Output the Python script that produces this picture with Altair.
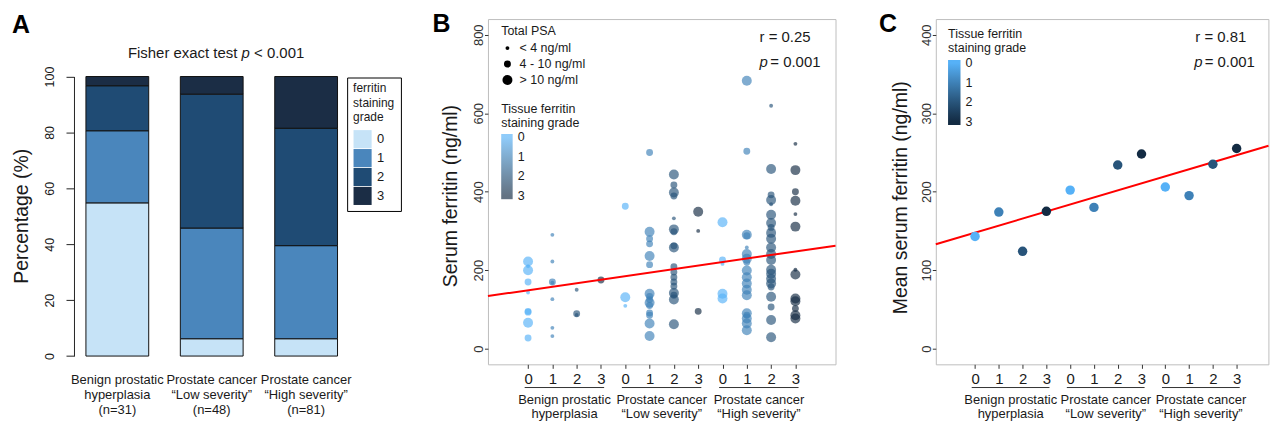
import altair as alt
import pandas as pd

FONT = "Liberation Sans"
INK = "#1a1a1a"

# ---------------- Panel A data ----------------
groups = ["BPH", "Low", "High"]
group_text_A = ["Benign prostatic\nhyperplasia\n(n=31)",
                "Prostate cancer\n“Low severity”\n(n=48)",
                "Prostate cancer\n“High severity”\n(n=81)"]
grades = ["0", "1", "2", "3"]
pct_bph = [54.8, 25.8, 16.1, 3.3]
pct_low = [6.2, 39.6, 47.9, 6.3]
pct_high = [6.2, 33.3, 42.0, 18.5]
fill_A = ["#C6E3F7", "#4A86BC", "#1F4B74", "#1B2D45"]

# ---------------- Panel B data (serum ferritin, ng/ml) ----------------
psa_labels = ["< 4 ng/ml", "4 - 10 ng/ml", "> 10 ng/ml"]
bph_g0 = [222, 210, 200, 170, 143, 95, 93, 66, 27]
bph_g0_psa = [2, 0, 2, 1, 0, 1, 1, 2, 1]
bph_g1 = [290, 222, 170, 168, 126, 53, 32]
bph_g1_psa = [0, 0, 1, 0, 0, 0, 0]
bph_g2 = [150, 89, 86]
bph_g2_psa = [0, 1, 0]
bph_g3 = [175]
bph_g3_psa = [1]
low_g0 = [363, 131, 109]
low_g0_psa = [1, 2, 0]
low_g1 = [500, 298, 280, 267, 236, 214, 140, 133, 125, 117, 110, 91, 85, 64, 32]
low_g1_psa = [1, 2, 1, 1, 2, 1, 2, 1, 1, 2, 1, 1, 1, 2, 2]
low_g2 = [444, 417, 398, 389, 332, 304, 298, 262, 258, 209, 195, 182, 170, 159, 142, 136, 125, 62]
low_g2_psa = [2, 1, 2, 1, 0, 2, 1, 1, 2, 1, 1, 1, 1, 1, 2, 1, 2, 2]
low_g3 = [349, 300, 95]
low_g3_psa = [2, 0, 1]
high_g0 = [322, 226, 216, 140, 128]
high_g0_psa = [2, 1, 0, 2, 2]
high_g1 = [683, 503, 290, 288, 258, 241, 229, 220, 199, 182, 166, 150, 136, 90, 85, 77, 64, 47]
high_g1_psa = [2, 1, 2, 1, 0, 2, 2, 1, 2, 2, 2, 2, 2, 2, 1, 2, 2, 2]
high_g2 = [619, 458, 392, 379, 368, 341, 320, 309, 295, 280, 258, 241, 226, 201, 191, 178,
           166, 157, 132, 106, 73, 29]
high_g2_psa = [0, 2, 1, 2, 0, 2, 2, 1, 2, 2, 2, 2, 2, 2, 2, 2, 2, 1, 2, 1, 2, 2]
high_g3 = [522, 455, 400, 377, 343, 311, 201, 189, 128, 121, 102, 85, 77]
high_g3_psa = [0, 2, 1, 2, 0, 2, 0, 2, 2, 2, 1, 2, 2]
fit_B_x = [-0.65, 13.65]
fit_B_y = [134, 262.5]

# ---------------- Panel C data (mean serum ferritin) ----------------
mean_serum = [143, 174, 124, 175, 202, 180, 234, 248, 206, 195, 235, 255]
fit_C_x = [-0.65, 13.34]
fit_C_y = [133, 258.5]

group_text_BC = ["Benign prostatic\nhyperplasia",
                 "Prostate cancer\n“Low severity”",
                 "Prostate cancer\n“High severity”"]

H = 346.7
WA, WB, WC = 314.3, 349, 334
X_MAX_B, X_MAX_C = 13.65, 13.336


def one(t):
    return pd.DataFrame({"t": [t]})


def label(t, x, y, size=13, align="left", baseline="alphabetic", weight="normal",
          style="normal", angle=0, color=INK):
    return alt.Chart(one(t)).mark_text(
        font=FONT, fontSize=size, align=align, baseline=baseline, fontWeight=weight,
        fontStyle=style, angle=angle, color=color
    ).encode(x=alt.value(x), y=alt.value(y), text="t:N")


# ================= Panel A =================
rows = []
for g, pcts in zip(groups, [pct_bph, pct_low, pct_high]):
    for gr, p in zip(grades, pcts):
        rows.append({"group": g, "grade": gr, "pct": p})
dfA = pd.DataFrame(rows)

xA_scale = alt.Scale(domain=groups, paddingInner=0.335, paddingOuter=0.3252, align=0.1946)

barsA = alt.Chart(dfA).mark_bar(stroke="#111", strokeWidth=1).encode(
    x=alt.X("group:N", sort=groups, scale=xA_scale, axis=None),
    y=alt.Y("pct:Q", stack="zero",
            scale=alt.Scale(domain=[0, 100], range=[338.4, 57.7], nice=False),
            axis=alt.Axis(values=[0, 20, 40, 60, 80, 100], labelAngle=270, labelAlign="center",
                          labelBaseline="alphabetic", tickSize=8, labelPadding=13,
                          domainColor="#222", tickColor="#222", labelColor=INK,
                          labelFontSize=12.5, labelFont=FONT, grid=False, title=None)),
    color=alt.Color("grade:N", scale=alt.Scale(domain=grades, range=fill_A),
                    legend=alt.Legend(title=["ferritin", "staining", "grade"], orient="none",
                                      legendX=274.3, legendY=58.7, strokeColor="#000",
                                      padding=6, symbolType="square", symbolSize=330,
                                      symbolStrokeWidth=0, rowPadding=0, labelFontSize=13,
                                      titleFontSize=12, titleFontWeight="normal",
                                      titleLineHeight=14.2, labelOffset=5, titlePadding=6,
                                      labelFont=FONT, titleFont=FONT, titleColor=INK,
                                      labelColor=INK, fillColor="white")),
    order=alt.Order("grade:N", sort="ascending"),
)

dfAg = pd.DataFrame({"group": groups, "lab": group_text_A})
groupA = alt.Chart(dfAg).mark_text(font=FONT, fontSize=13, lineBreak="\n", lineHeight=14.8,
                                   baseline="alphabetic", color=INK).encode(
    x=alt.X("group:N", sort=groups, scale=xA_scale, axis=None),
    y=alt.value(366.7), text="lab:N")

panelA = alt.layer(
    barsA, groupA,
    label("A", -62.3, 14.4, size=25, weight="bold", color="#000"),
    label("Fisher exact test", 164.1, 38.7, size=15, align="right"),
    label("p", 168.3, 38.7, size=15, style="italic"),
    label("< 0.001", 180.8, 38.7, size=15),
    label("Percentage (%)", -52.2, 198, size=19.5, align="center", baseline="middle", angle=270),
).properties(width=WA, height=H, view=alt.ViewBackground(stroke=None))


# ================= Panels B & C helpers =================
def x_enc(field, xmax):
    return alt.X(field, scale=alt.Scale(domain=[-0.65, xmax], nice=False, zero=False),
                 axis=alt.Axis(values=list(range(1, 13)), labelExpr="'' + ((datum.value - 1) % 4)",
                               grid=False, domain=False, tickSize=4, tickColor="#333",
                               labelFontSize=15, labelFont=FONT, labelColor=INK,
                               labelBaseline="top", labelPadding=3.7, title=None))


def y_enc(field, top, step):
    return alt.Y(field, scale=alt.Scale(domain=[-top * 0.05, top * 1.05], nice=False, zero=False),
                 axis=alt.Axis(values=list(range(0, top + 1, step)), labelAngle=270,
                               labelAlign="center", labelBaseline="alphabetic",
                               tickSize=3.5, tickColor="#333", labelPadding=2.2,
                               labelFontSize=13, labelFont=FONT, labelColor="#333",
                               grid=False, domain=False, title=None))


# colour field is the negated grade so that grade 0 sits at the top of the vertical gradient;
# the colour bar runs a little past grades 0 and 3, as a ggplot colour bar does
color_scale = alt.Scale(domain=[-3.17, -3, 0, 0.17],
                        range=["#132B43", "#132B43", "#56B1F7", "#56B1F7"], interpolate="lab")


def grade_legend(lx, ly, thick):
    return alt.Legend(title=["Tissue ferritin", "staining grade"], orient="none",
                      legendX=lx, legendY=ly, padding=0, gradientLength=65.5,
                      gradientThickness=thick, gradientStrokeWidth=0, values=[-3, -2, -1, 0],
                      labelExpr="'' + (-datum.value)", labelOffset=5,
                      labelFontSize=12.5, labelOverlap=False,
                      titleFontSize=12.5, titleFontWeight="normal", titleLineHeight=14,
                      titlePadding=5, labelFont=FONT, titleFont=FONT, titleColor=INK,
                      labelColor=INK)


def bottom_groups(xmax, ref_y_line, ref_y_text):
    starts = [1, 5, 9]
    dfu = pd.DataFrame({"x0": [s - 0.14 for s in starts], "x1": [s + 3.13 for s in starts]})
    rule = alt.Chart(dfu).mark_rule(color="#333", strokeWidth=1).encode(
        x=x_enc("x0:Q", xmax), x2="x1:Q", y=alt.value(ref_y_line))
    dfl = pd.DataFrame({"cx": [s + 1.5 for s in starts], "lab": group_text_BC})
    txt = alt.Chart(dfl).mark_text(font=FONT, fontSize=13, lineBreak="\n", lineHeight=14.3,
                                   baseline="alphabetic", color=INK).encode(
        x=x_enc("cx:Q", xmax), y=alt.value(ref_y_text), text="lab:N")
    return rule, txt


# ================= Panel B =================
b_lists = [
    (bph_g0, bph_g0_psa), (bph_g1, bph_g1_psa), (bph_g2, bph_g2_psa), (bph_g3, bph_g3_psa),
    (low_g0, low_g0_psa), (low_g1, low_g1_psa), (low_g2, low_g2_psa), (low_g3, low_g3_psa),
    (high_g0, high_g0_psa), (high_g1, high_g1_psa), (high_g2, high_g2_psa), (high_g3, high_g3_psa),
]
rows = []
for i, (vals, psas) in enumerate(b_lists):
    for v, p in zip(vals, psas):
        rows.append({"pos": i + 1, "grade": i % 4, "serum": v, "psa": psa_labels[p]})
dfB = pd.DataFrame(rows)

pointsB = alt.Chart(dfB).transform_calculate(neg="-datum.grade").mark_circle(opacity=0.66).encode(
    x=x_enc("pos:Q", X_MAX_B),
    y=y_enc("serum:Q", 800, 200),
    color=alt.Color("neg:Q", scale=color_scale, legend=grade_legend(13.3, 83.9, 11.5)),
    size=alt.Size("psa:N", scale=alt.Scale(type="ordinal", domain=psa_labels, range=[15, 48, 100]),
                  legend=alt.Legend(title="Total PSA", orient="none", legendX=13.3, legendY=6.2,
                                    padding=0, symbolType="circle", symbolFillColor="#000",
                                    symbolStrokeWidth=0, symbolOpacity=1, rowPadding=3.0,
                                    labelOffset=5.9, titlePadding=4.2, labelFontSize=12.5,
                                    titleFontSize=12.5, titleFontWeight="normal",
                                    labelFont=FONT, titleFont=FONT, titleColor=INK,
                                    labelColor=INK)),
)
lineB = alt.Chart(pd.DataFrame({"lx": fit_B_x, "ly": fit_B_y})).mark_line(
    color="#FF0000", strokeWidth=2).encode(x=x_enc("lx:Q", X_MAX_B), y=y_enc("ly:Q", 800, 200))
ruleB, txtB = bottom_groups(X_MAX_B, 370, 386.2)

panelB = alt.layer(
    pointsB, lineB, ruleB, txtB,
    label("B", -55.7, 12.7, size=25, weight="bold", color="#000"),
    label("r = 0.25", 272.7, 23.4, size=15),
    label("p", 272.7, 48.4, size=15, style="italic"),
    label("= 0.001", 283.5, 48.4, size=15),
    label("Serum ferritin (ng/ml)", -37.2, 177.7, size=19.5, align="center",
          baseline="middle", angle=270),
).properties(width=WB, height=H, view=alt.ViewBackground(stroke="#BDBDBD", strokeWidth=1))

# ================= Panel C =================
dfC = pd.DataFrame({"pos": list(range(1, 13)), "grade": [i % 4 for i in range(12)],
                    "mean": mean_serum})
lineC = alt.Chart(pd.DataFrame({"lx": fit_C_x, "ly": fit_C_y})).mark_line(
    color="#FF0000", strokeWidth=2).encode(x=x_enc("lx:Q", X_MAX_C), y=y_enc("ly:Q", 400, 100))
pointsC = alt.Chart(dfC).transform_calculate(neg="-datum.grade").mark_circle(
    opacity=1, size=90).encode(
    x=x_enc("pos:Q", X_MAX_C),
    y=y_enc("mean:Q", 400, 100),
    color=alt.Color("neg:Q", scale=color_scale, legend=grade_legend(12.3, 9.5, 12.5)),
)
ruleC, txtC = bottom_groups(X_MAX_C, 370, 386.2)

panelC = alt.layer(
    lineC, pointsC, ruleC, txtC,
    label("C", -57, 12.7, size=25, weight="bold", color="#000"),
    label("r = 0.81", 260.6, 22.7, size=15),
    label("p", 259.6, 48.4, size=15, style="italic"),
    label("= 0.001", 270.0, 48.4, size=15),
    label("Mean serum ferritin (ng/ml)", -35.2, 179.4, size=19.5, align="center",
          baseline="middle", angle=270),
).properties(width=WC, height=H, view=alt.ViewBackground(stroke="#BDBDBD", strokeWidth=1))

chart = alt.hconcat(panelA, panelB, panelC, spacing=100.7, bounds="flush").resolve_scale(
    color="independent", x="independent", y="independent", size="independent"
).configure(
    font=FONT, padding={"left": 3.25, "top": 2.25, "right": 0, "bottom": 0}
).configure_view(stroke=None)

chart.save("out.html", embed_options={"renderer": "svg", "actions": False})
